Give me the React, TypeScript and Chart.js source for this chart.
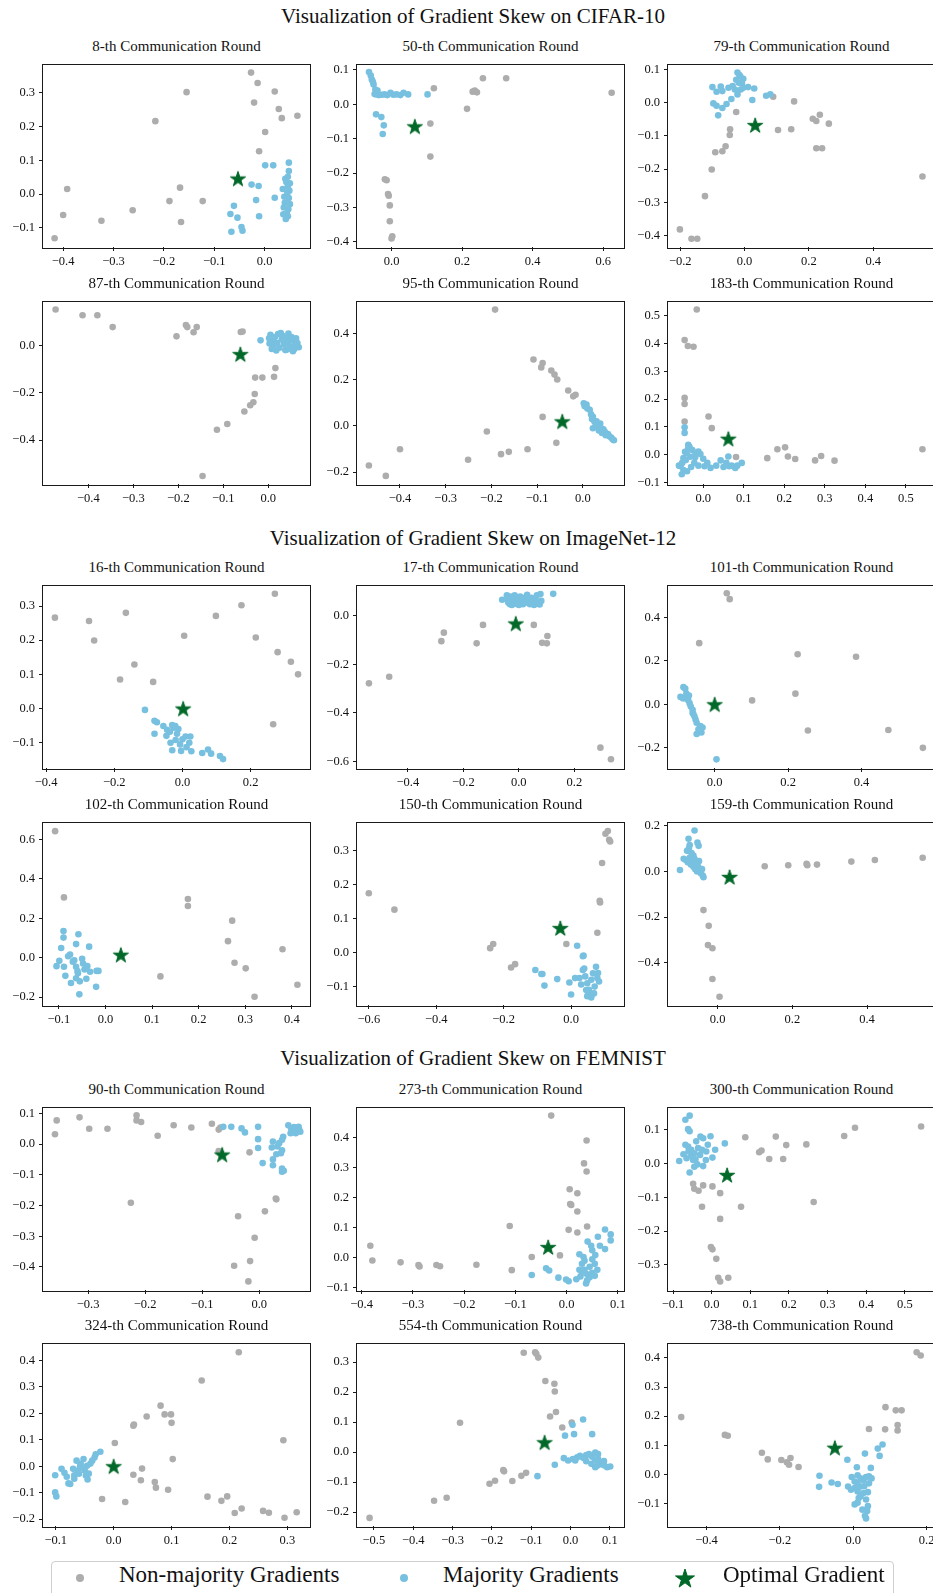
import React, { useEffect, useRef } from 'react';
import { Chart, registerables } from 'chart.js';

Chart.register(...registerables);

type Pt = [number, number];

const GRAY = '#adadad';
const BLUE = '#78c0e0';
const GREEN = '#006828';
const FONT = "'Liberation Serif', 'Times New Roman', serif";

const sectionTitles = [
  'Visualization of Gradient Skew on CIFAR-10',
  'Visualization of Gradient Skew on ImageNet-12',
  'Visualization of Gradient Skew on FEMNIST',
];
const rounds = [8, 50, 79, 87, 95, 183, 16, 17, 101, 102, 150, 159, 90, 273, 300, 324, 554, 738];
const legendLabels = ['Non-majority Gradients', 'Majority Gradients', 'Optimal Gradient'];

// ---------- CIFAR-10 ----------
const p1Gray: Pt[] = [[-0.417,-0.131],[-0.400,-0.062],[-0.392,0.015],[-0.324,-0.079],[-0.262,-0.048],[-0.217,0.216],[-0.189,-0.021],[-0.168,0.019],[-0.166,-0.083],[-0.155,0.302],[-0.123,-0.021],[-0.027,0.360],[-0.014,0.329],[-0.021,0.271],[0.020,0.304],[0.028,0.252],[0.034,0.225],[0.065,0.232],[0.001,0.184],[-0.011,0.127]];
const p1Blue: Pt[] = [[0.001,0.085],[0.017,0.085],[0.048,0.093],[0.048,0.068],[0.046,0.051],[0.043,0.036],[0.046,0.024],[0.045,0.003],[0.048,-0.012],[0.040,-0.026],[0.038,-0.040],[0.044,-0.057],[0.042,-0.074],[0.050,0.032],[0.036,0.015],[0.050,-0.030],[0.037,-0.060],[0.046,-0.066],[0.041,0.045],[0.049,0.010],[0.039,-0.008],[0.047,-0.045],[-0.026,0.028],[-0.012,0.024],[0.020,-0.011],[-0.017,-0.018],[-0.061,-0.035],[-0.068,-0.059],[-0.054,-0.070],[-0.011,-0.066],[-0.066,-0.112],[-0.046,-0.098],[-0.044,-0.109]];
const p1Star: Pt[] = [[-0.053,0.046]];
const p1X = [-0.4,-0.3,-0.2,-0.1,0.0];
const p1Y = [-0.1,0.0,0.1,0.2,0.3];
const p1XLim = [-0.440,0.090];
const p1YLim = [-0.157,0.384];

const p2Gray: Pt[] = [[0.120,0.047],[0.325,0.076],[0.259,0.076],[0.230,0.037],[0.242,0.035],[0.236,0.040],[0.214,-0.013],[0.624,0.034],[0.110,-0.056],[0.110,-0.152],[-0.019,-0.218],[-0.014,-0.221],[-0.010,-0.261],[-0.008,-0.266],[-0.005,-0.294],[-0.005,-0.340],[0.002,-0.384],[0.000,-0.390]];
const p2Blue: Pt[] = [[-0.064,0.094],[-0.059,0.084],[-0.056,0.072],[-0.051,0.058],[-0.046,0.043],[-0.041,0.034],[-0.036,0.027],[-0.020,0.029],[-0.003,0.034],[0.014,0.029],[0.034,0.034],[0.047,0.029],[0.102,0.029],[-0.028,0.028],[-0.012,0.027],[0.005,0.028],[-0.048,0.030],[-0.040,0.040],[-0.053,0.066],[-0.044,0.029],[0.025,0.027],[-0.044,-0.029],[-0.029,-0.037],[-0.022,-0.061],[-0.025,-0.086]];
const p2Star: Pt[] = [[0.066,-0.064]];
const p2X = [0.0,0.2,0.4,0.6];
const p2Y = [-0.4,-0.3,-0.2,-0.1,0.0,0.1];
const p2XLim = [-0.098,0.659];
const p2YLim = [-0.415,0.116];

const p3Gray: Pt[] = [[-0.026,-0.028],[0.089,0.018],[0.154,0.004],[-0.045,-0.080],[-0.046,-0.097],[-0.059,-0.131],[-0.069,-0.146],[-0.091,-0.149],[-0.102,-0.201],[-0.123,-0.281],[-0.201,-0.381],[-0.165,-0.409],[-0.147,-0.409],[0.104,-0.082],[0.145,-0.080],[0.212,-0.048],[0.223,-0.055],[0.234,-0.036],[0.262,-0.063],[0.223,-0.137],[0.241,-0.137],[0.553,-0.222]];
const p3Blue: Pt[] = [[-0.022,0.091],[-0.013,0.079],[-0.004,0.072],[-0.026,0.069],[-0.018,0.060],[-0.008,0.058],[-0.037,0.050],[-0.050,0.045],[-0.069,0.035],[-0.087,0.033],[-0.100,0.047],[-0.074,0.049],[-0.004,0.045],[0.011,0.047],[0.030,0.043],[-0.022,0.025],[-0.030,0.040],[-0.041,0.011],[-0.056,-0.004],[-0.069,-0.016],[-0.097,-0.002],[-0.087,-0.009],[-0.082,-0.038],[0.024,0.008],[0.067,0.021],[0.080,0.025],[-0.012,0.040],[-0.016,0.083]];
const p3Star: Pt[] = [[0.033,-0.067]];
const p3X = [-0.2,0.0,0.2,0.4];
const p3Y = [-0.4,-0.3,-0.2,-0.1,0.0,0.1];
const p3XLim = [-0.238,0.592];
const p3YLim = [-0.434,0.115];

const p4Gray: Pt[] = [[-0.473,0.151],[-0.413,0.127],[-0.380,0.127],[-0.346,0.077],[-0.204,0.038],[-0.183,0.086],[-0.180,0.077],[-0.166,0.055],[-0.159,0.077],[-0.061,0.056],[-0.057,0.058],[0.016,-0.096],[0.013,-0.133],[-0.013,-0.136],[-0.029,-0.136],[-0.030,-0.205],[-0.033,-0.240],[-0.040,-0.253],[-0.053,-0.279],[-0.091,-0.332],[-0.114,-0.356],[-0.146,-0.551]];
const p4Blue: Pt[] = [[-0.017,0.021],[0.002,0.030],[0.005,0.045],[0.010,0.020],[0.012,0.000],[0.008,-0.015],[0.015,0.035],[0.020,0.010],[0.022,0.048],[0.025,-0.010],[0.030,0.025],[0.032,0.040],[0.035,0.005],[0.038,-0.020],[0.040,0.030],[0.045,0.050],[0.045,0.015],[0.048,-0.005],[0.052,0.035],[0.055,0.020],[0.058,-0.015],[0.060,0.005],[0.062,0.030],[0.065,0.010],[0.068,-0.008],[0.055,-0.025],[0.003,0.008],[0.018,-0.022],[0.028,0.052],[0.042,-0.018]];
const p4Star: Pt[] = [[-0.062,-0.037]];
const p4X = [-0.4,-0.3,-0.2,-0.1,0.0];
const p4Y = [-0.4,-0.2,0.0];
const p4XLim = [-0.501,0.093];
const p4YLim = [-0.585,0.185];

const p5Gray: Pt[] = [[-0.468,-0.171],[-0.431,-0.216],[-0.400,-0.101],[-0.251,-0.146],[-0.210,-0.024],[-0.192,0.503],[-0.179,-0.122],[-0.162,-0.112],[-0.121,-0.101],[-0.108,0.287],[-0.088,0.272],[-0.091,0.253],[-0.069,0.240],[-0.062,0.222],[-0.056,0.201],[-0.088,0.039],[-0.032,0.153],[-0.021,0.128],[-0.016,0.135],[-0.058,-0.073]];
const p5Blue: Pt[] = [[0.002,0.098],[0.004,0.085],[0.008,0.092],[0.010,0.075],[0.015,0.070],[0.018,0.050],[0.022,0.040],[0.020,0.030],[0.025,0.020],[0.028,0.005],[0.030,0.020],[0.022,-0.010],[0.032,-0.005],[0.035,-0.020],[0.040,-0.010],[0.042,-0.030],[0.048,-0.025],[0.050,-0.040],[0.055,-0.035],[0.058,-0.045],[0.062,-0.050],[0.065,-0.058],[0.068,-0.062],[0.045,-0.015],[0.038,0.010]];
const p5Star: Pt[] = [[-0.045,0.020]];
const p5X = [-0.4,-0.3,-0.2,-0.1,0.0];
const p5Y = [-0.2,0.0,0.2,0.4];
const p5XLim = [-0.494,0.090];
const p5YLim = [-0.251,0.538];

const p6Gray: Pt[] = [[-0.016,0.522],[-0.046,0.412],[-0.038,0.391],[-0.024,0.388],[-0.046,0.204],[-0.046,0.182],[-0.046,0.119],[0.013,0.137],[0.021,0.095],[0.081,-0.009],[0.158,-0.013],[0.183,0.019],[0.202,0.026],[0.209,-0.007],[0.227,-0.016],[0.276,-0.021],[0.291,-0.005],[0.324,-0.022],[0.541,0.019]];
const p6Blue: Pt[] = [[-0.046,0.098],[-0.046,0.078],[-0.037,0.035],[-0.037,0.023],[-0.041,0.005],[-0.049,-0.013],[-0.052,-0.030],[-0.056,-0.042],[-0.049,-0.056],[-0.053,-0.071],[-0.034,0.028],[-0.027,0.016],[-0.019,0.005],[-0.012,0.011],[-0.007,0.002],[-0.022,-0.030],[-0.012,-0.040],[0.010,-0.030],[0.003,-0.042],[0.018,-0.048],[0.032,-0.040],[0.043,-0.021],[0.057,-0.030],[0.064,-0.042],[0.079,-0.048],[0.095,-0.030],[0.084,-0.040],[0.062,-0.007],[-0.043,-0.020],[-0.032,-0.008],[-0.045,0.010],[-0.060,-0.040],[-0.030,-0.045],[0.000,-0.015],[-0.020,-0.010],[0.050,-0.045],[0.070,-0.040],[-0.040,-0.060]];
const p6Star: Pt[] = [[0.062,0.057]];
const p6X = [0.0,0.1,0.2,0.3,0.4,0.5];
const p6Y = [-0.1,0.0,0.1,0.2,0.3,0.4,0.5];
const p6XLim = [-0.087,0.572];
const p6YLim = [-0.106,0.551];

// ---------- ImageNet-12 ----------
const p7Gray: Pt[] = [[-0.374,0.266],[-0.274,0.256],[-0.259,0.199],[-0.166,0.280],[-0.141,0.129],[-0.183,0.085],[-0.086,0.078],[0.005,0.213],[0.098,0.271],[0.173,0.302],[0.215,0.208],[0.271,0.336],[0.279,0.165],[0.318,0.137],[0.339,0.100],[0.266,-0.046]];
const p7Blue: Pt[] = [[-0.110,-0.004],[-0.082,-0.036],[-0.075,-0.040],[-0.056,-0.051],[-0.047,-0.080],[-0.082,-0.074],[-0.030,-0.048],[-0.026,-0.056],[-0.016,-0.074],[-0.035,-0.100],[-0.030,-0.122],[-0.007,-0.105],[-0.004,-0.124],[0.009,-0.082],[0.023,-0.082],[0.012,-0.113],[0.026,-0.125],[0.058,-0.130],[0.075,-0.120],[0.084,-0.132],[0.110,-0.139],[0.119,-0.148],[-0.037,-0.068],[-0.021,-0.051],[0.020,-0.100],[-0.045,-0.062],[-0.012,-0.060],[0.000,-0.090],[-0.020,-0.092]];
const p7Star: Pt[] = [[0.002,0.000]];
const p7X = [-0.4,-0.2,0.0,0.2];
const p7Y = [-0.1,0.0,0.1,0.2,0.3];
const p7XLim = [-0.409,0.374];
const p7YLim = [-0.174,0.360];

const p8Gray: Pt[] = [[-0.540,-0.278],[-0.467,-0.251],[-0.279,-0.104],[-0.270,-0.069],[-0.152,-0.113],[-0.129,-0.037],[0.054,-0.037],[0.103,-0.083],[0.084,-0.111],[0.101,-0.113],[0.294,-0.543],[0.332,-0.591]];
const p8Blue: Pt[] = [[-0.060,0.067],[0.124,0.091],[-0.043,0.085],[-0.040,0.070],[-0.038,0.055],[-0.030,0.080],[-0.025,0.045],[-0.020,0.065],[-0.015,0.085],[-0.010,0.050],[-0.005,0.070],[0.000,0.045],[0.005,0.080],[0.010,0.060],[0.015,0.048],[0.020,0.075],[0.025,0.055],[0.030,0.087],[0.035,0.065],[0.040,0.048],[0.045,0.075],[0.050,0.058],[0.055,0.045],[0.060,0.070],[0.065,0.085],[0.070,0.055],[0.075,0.047],[0.081,0.062],[0.078,0.090],[-0.032,0.048]];
const p8Star: Pt[] = [[-0.011,-0.031]];
const p8X = [-0.4,-0.2,0.0,0.2];
const p8Y = [-0.6,-0.4,-0.2,0.0];
const p8XLim = [-0.583,0.379];
const p8YLim = [-0.627,0.1255];

const p9Gray: Pt[] = [[0.033,0.512],[0.041,0.485],[-0.042,0.282],[0.226,0.231],[0.385,0.219],[0.102,0.018],[0.220,0.049],[0.254,-0.121],[0.473,-0.119],[0.567,-0.201]];
const p9Blue: Pt[] = [[-0.085,0.079],[-0.080,0.072],[-0.077,0.049],[-0.093,0.034],[-0.085,0.027],[-0.072,0.019],[-0.068,0.004],[-0.065,-0.010],[-0.060,-0.025],[-0.060,-0.040],[-0.055,-0.055],[-0.052,-0.070],[-0.049,-0.085],[-0.039,-0.100],[-0.044,-0.115],[-0.036,-0.130],[-0.049,-0.137],[-0.033,-0.107],[-0.075,0.027],[-0.088,0.030],[-0.070,0.040],[-0.058,-0.045],[0.005,-0.254]];
const p9Star: Pt[] = [[0.000,0.000]];
const p9X = [0.0,0.2,0.4];
const p9Y = [-0.2,0.0,0.2,0.4];
const p9XLim = [-0.127,0.600];
const p9YLim = [-0.294,0.548];

const p10Gray: Pt[] = [[-0.108,0.642],[-0.089,0.306],[0.177,0.298],[0.177,0.262],[0.272,0.188],[0.263,0.084],[0.277,-0.026],[0.301,-0.054],[0.118,-0.095],[0.320,-0.198],[0.380,0.043],[0.412,-0.137]];
const p10Blue: Pt[] = [[-0.090,0.135],[-0.090,0.102],[-0.095,0.049],[-0.105,-0.043],[-0.099,-0.016],[-0.089,-0.046],[-0.086,-0.092],[-0.080,0.007],[-0.076,0.016],[-0.074,-0.128],[-0.063,0.069],[-0.058,0.119],[-0.067,-0.013],[-0.063,-0.046],[-0.059,-0.079],[-0.063,-0.104],[-0.060,-0.068],[-0.056,-0.186],[-0.050,-0.005],[-0.048,-0.030],[-0.039,-0.043],[-0.041,-0.107],[-0.035,0.056],[-0.033,-0.071],[-0.020,-0.148],[-0.019,-0.067],[-0.015,-0.067],[-0.070,-0.020],[-0.045,-0.060],[-0.055,-0.120]];
const p10Star: Pt[] = [[0.033,0.015]];
const p10X = [-0.1,0.0,0.1,0.2,0.3,0.4];
const p10Y = [-0.2,0.0,0.2,0.4,0.6];
const p10XLim = [-0.134,0.439];
const p10YLim = [-0.240,0.686];

const p11Gray: Pt[] = [[-0.600,0.174],[-0.524,0.126],[-0.240,0.013],[-0.231,0.025],[-0.178,-0.044],[-0.166,-0.034],[-0.014,0.025],[0.078,0.058],[0.085,0.152],[0.086,0.147],[0.092,0.263],[0.102,0.349],[0.109,0.357],[0.113,0.331],[0.116,0.326]];
const p11Blue: Pt[] = [[0.018,0.020],[0.035,-0.011],[0.037,-0.009],[-0.106,-0.051],[-0.088,-0.063],[-0.085,-0.063],[-0.079,-0.097],[-0.041,-0.078],[-0.005,-0.088],[0.000,-0.123],[0.012,-0.075],[0.035,-0.051],[0.042,-0.070],[0.048,-0.090],[0.053,-0.109],[0.060,-0.132],[0.065,-0.061],[0.074,-0.042],[0.078,-0.075],[0.083,-0.085],[0.048,-0.128],[0.056,-0.118],[0.030,-0.094],[0.039,-0.047],[0.070,-0.100],[0.060,-0.080],[0.080,-0.060],[0.045,-0.110],[0.025,-0.075],[0.068,-0.120]];
const p11Star: Pt[] = [[-0.032,0.072]];
const p11X = [-0.6,-0.4,-0.2,0.0];
const p11Y = [-0.1,0.0,0.1,0.2,0.3];
const p11XLim = [-0.635,0.157];
const p11YLim = [-0.154,0.382];

const p12Gray: Pt[] = [[0.126,0.023],[0.189,0.027],[0.238,0.033],[0.240,0.027],[0.266,0.030],[0.358,0.043],[0.421,0.050],[0.549,0.060],[-0.038,-0.169],[-0.024,-0.238],[-0.026,-0.322],[-0.014,-0.336],[-0.014,-0.470],[0.005,-0.548]];
const p12Blue: Pt[] = [[-0.101,0.006],[-0.062,0.179],[-0.078,0.143],[-0.075,0.115],[-0.054,0.126],[-0.051,0.112],[-0.091,0.055],[-0.085,0.050],[-0.080,0.040],[-0.075,0.060],[-0.072,0.030],[-0.068,0.045],[-0.065,0.020],[-0.062,0.055],[-0.060,0.010],[-0.058,0.035],[-0.055,0.000],[-0.052,0.020],[-0.050,0.045],[-0.048,0.005],[-0.045,-0.008],[-0.042,0.010],[-0.040,-0.018],[-0.038,-0.025],[-0.082,0.090],[-0.077,0.100],[-0.070,0.080],[-0.065,0.070]];
const p12Star: Pt[] = [[0.032,-0.024]];
const p12X = [0.0,0.2,0.4];
const p12Y = [-0.4,-0.2,0.0,0.2];
const p12XLim = [-0.133,0.582];
const p12YLim = [-0.584,0.214];

// ---------- FEMNIST ----------
const p13Gray: Pt[] = [[-0.358,0.032],[-0.355,0.077],[-0.315,0.087],[-0.298,0.050],[-0.266,0.050],[-0.225,-0.191],[-0.215,0.094],[-0.215,0.077],[-0.207,0.072],[-0.178,0.027],[-0.150,0.061],[-0.119,0.054],[-0.083,0.066],[-0.071,0.047],[-0.068,0.054],[-0.071,-0.023],[-0.017,-0.027],[-0.037,-0.235],[-0.008,-0.305],[0.010,-0.219],[0.029,-0.177],[0.030,-0.180],[-0.044,-0.396],[-0.016,-0.381],[-0.019,-0.447]];
const p13Blue: Pt[] = [[-0.063,0.056],[-0.049,0.056],[-0.031,0.051],[-0.025,0.038],[-0.002,0.056],[-0.002,0.016],[-0.002,-0.013],[0.024,0.008],[0.022,-0.011],[0.006,-0.062],[0.024,-0.050],[0.024,-0.069],[0.030,-0.033],[0.032,-0.008],[0.035,0.003],[0.040,0.014],[0.042,0.024],[0.040,-0.020],[0.038,-0.030],[0.040,-0.080],[0.043,-0.087],[0.040,-0.090],[0.051,0.061],[0.056,0.050],[0.061,0.055],[0.066,0.045],[0.059,0.040],[0.069,0.056],[0.072,0.040],[0.064,0.035],[0.055,0.035],[0.070,0.048]];
const p13Star: Pt[] = [[-0.065,-0.034]];
const p13X = [-0.3,-0.2,-0.1,0.0];
const p13Y = [-0.4,-0.3,-0.2,-0.1,0.0,0.1];
const p13XLim = [-0.379,0.089];
const p13YLim = [-0.475,0.119];

const p14Gray: Pt[] = [[-0.383,0.040],[-0.379,-0.009],[-0.324,-0.015],[-0.289,-0.024],[-0.287,-0.029],[-0.254,-0.024],[-0.247,-0.028],[-0.176,-0.023],[-0.111,0.106],[-0.107,-0.041],[-0.068,0.003],[-0.030,0.473],[-0.013,0.008],[0.004,0.093],[0.021,0.084],[0.006,0.228],[0.021,0.215],[0.007,0.179],[0.009,0.176],[0.021,0.154],[0.034,0.314],[0.039,0.287],[0.039,0.390],[0.040,0.104]];
const p14Blue: Pt[] = [[-0.068,-0.057],[-0.040,-0.035],[-0.034,-0.042],[-0.016,-0.066],[-0.001,-0.072],[0.004,-0.078],[0.019,-0.071],[0.027,-0.062],[0.025,0.012],[0.033,0.003],[0.041,0.054],[0.050,0.025],[0.056,0.009],[0.061,0.070],[0.065,0.040],[0.075,0.029],[0.075,0.094],[0.086,0.058],[0.086,0.078],[0.030,-0.020],[0.035,-0.040],[0.040,-0.055],[0.045,-0.030],[0.050,-0.050],[0.055,-0.020],[0.040,-0.075],[0.030,-0.050],[0.045,-0.065],[0.060,-0.040],[0.050,-0.005],[0.035,-0.010],[0.025,-0.040],[0.055,-0.060],[0.048,0.040],[0.038,-0.085]];
const p14Star: Pt[] = [[-0.036,0.036]];
const p14X = [-0.4,-0.3,-0.2,-0.1,0.0,0.1];
const p14Y = [-0.1,0.0,0.1,0.2,0.3,0.4];
const p14XLim = [-0.409,0.112];
const p14YLim = [-0.107,0.500];

const p15Gray: Pt[] = [[0.542,0.109],[0.371,0.105],[0.343,0.081],[0.245,0.056],[0.166,0.079],[0.193,0.054],[0.123,0.033],[0.129,0.038],[0.149,0.013],[0.185,0.013],[0.087,0.077],[0.264,-0.114],[0.076,-0.128],[-0.048,-0.060],[-0.045,-0.075],[-0.034,-0.081],[-0.022,-0.065],[0.002,-0.068],[-0.025,-0.128],[0.022,-0.088],[0.022,-0.164],[-0.002,-0.247],[0.002,-0.254],[0.012,-0.282],[0.017,-0.338],[0.022,-0.349],[0.043,-0.338]];
const p15Blue: Pt[] = [[-0.057,0.141],[-0.068,0.129],[-0.061,0.101],[-0.057,0.095],[-0.084,0.007],[-0.073,0.027],[-0.068,0.055],[-0.061,0.050],[-0.053,0.040],[-0.045,0.030],[-0.053,0.021],[-0.042,0.012],[-0.037,-0.003],[-0.057,-0.027],[-0.029,0.079],[-0.022,0.074],[-0.003,0.080],[-0.022,-0.008],[0.002,0.017],[-0.014,0.035],[0.009,0.040],[0.034,0.059],[-0.040,0.065],[-0.035,0.045],[-0.030,0.025],[-0.048,0.010],[-0.060,0.035],[-0.025,0.040],[-0.015,0.010],[-0.045,-0.010],[-0.065,0.015],[-0.010,0.055]];
const p15Star: Pt[] = [[0.040,-0.034]];
const p15X = [-0.1,0.0,0.1,0.2,0.3,0.4,0.5];
const p15Y = [-0.3,-0.2,-0.1,0.0,0.1];
const p15XLim = [-0.113,0.578];
const p15YLim = [-0.374,0.165];

const p16Gray: Pt[] = [[0.002,0.088],[0.034,-0.032],[0.047,-0.053],[0.049,-0.009],[-0.020,-0.124],[0.020,-0.135],[0.034,0.153],[0.035,0.158],[0.057,0.188],[0.081,0.229],[0.088,0.196],[0.099,0.196],[0.100,0.164],[0.102,0.027],[0.071,-0.060],[0.073,-0.081],[0.094,-0.089],[0.152,0.324],[0.162,-0.115],[0.186,-0.131],[0.196,-0.114],[0.209,-0.177],[0.221,-0.160],[0.216,0.431],[0.258,-0.169],[0.268,-0.176],[0.293,0.098],[0.295,-0.195],[0.316,-0.174]];
const p16Blue: Pt[] = [[-0.101,-0.034],[-0.101,-0.099],[-0.099,-0.114],[-0.090,-0.010],[-0.081,-0.040],[-0.078,-0.065],[-0.075,-0.067],[-0.068,-0.047],[-0.062,-0.016],[-0.064,0.021],[-0.057,0.009],[-0.052,0.027],[-0.050,-0.016],[-0.046,0.002],[-0.045,-0.050],[-0.043,-0.028],[-0.037,0.021],[-0.033,0.033],[-0.031,0.045],[-0.023,0.055],[-0.068,-0.034],[-0.060,-0.028],[-0.055,-0.005],[-0.040,0.010],[-0.070,-0.010],[-0.085,-0.025],[-0.048,-0.035],[-0.058,0.000]];
const p16Star: Pt[] = [[0.000,0.000]];
const p16X = [-0.1,0.0,0.1,0.2,0.3];
const p16Y = [-0.2,-0.1,0.0,0.1,0.2,0.3,0.4];
const p16XLim = [-0.122,0.339];
const p16YLim = [-0.226,0.464];

const p17Gray: Pt[] = [[-0.511,-0.219],[-0.347,-0.162],[-0.315,-0.152],[-0.281,0.098],[-0.206,-0.105],[-0.192,-0.095],[-0.171,-0.060],[-0.169,-0.064],[-0.148,-0.096],[-0.125,-0.079],[-0.113,-0.069],[-0.119,0.331],[-0.090,0.333],[-0.087,0.328],[-0.082,0.315],[-0.064,0.237],[-0.041,0.228],[-0.040,0.202],[-0.052,0.119],[-0.037,0.134],[-0.021,0.082],[0.003,0.099]];
const p17Blue: Pt[] = [[-0.084,-0.080],[-0.040,-0.042],[-0.014,0.055],[0.005,0.091],[0.009,0.060],[0.032,0.109],[0.055,0.060],[-0.017,-0.020],[-0.006,-0.028],[0.006,-0.023],[0.017,-0.017],[0.024,-0.012],[0.032,-0.019],[0.047,-0.006],[0.055,-0.015],[0.063,-0.001],[0.070,-0.006],[0.053,-0.039],[0.063,-0.050],[0.070,-0.044],[0.085,-0.044],[0.093,-0.050],[0.101,-0.048],[0.078,-0.034],[0.040,-0.030],[0.012,-0.028],[0.063,-0.028],[0.070,-0.022],[0.085,-0.030],[0.040,-0.010]];
const p17Star: Pt[] = [[-0.066,0.033]];
const p17X = [-0.5,-0.4,-0.3,-0.2,-0.1,0.0,0.1];
const p17Y = [-0.2,-0.1,0.0,0.1,0.2,0.3];
const p17XLim = [-0.543,0.136];
const p17YLim = [-0.246,0.362];

const p18Gray: Pt[] = [[-0.469,0.197],[-0.350,0.136],[-0.342,0.133],[-0.249,0.075],[-0.233,0.052],[-0.196,0.050],[-0.181,0.042],[-0.171,0.057],[-0.175,0.034],[-0.149,0.026],[0.043,0.156],[0.087,0.155],[0.088,0.231],[0.116,0.220],[0.132,0.220],[0.121,0.170],[0.121,0.151],[0.173,0.419],[0.184,0.408]];
const p18Blue: Pt[] = [[-0.092,-0.004],[-0.093,-0.042],[-0.059,-0.027],[-0.042,-0.032],[-0.016,0.051],[0.010,0.025],[0.032,0.072],[0.048,0.023],[0.067,0.089],[0.072,0.064],[0.080,0.103],[-0.004,-0.008],[0.004,-0.024],[0.012,-0.002],[0.020,-0.013],[0.028,-0.019],[0.035,-0.008],[0.043,-0.006],[0.050,-0.013],[0.004,-0.046],[0.012,-0.058],[0.020,-0.074],[0.028,-0.063],[0.035,-0.085],[0.040,-0.108],[0.012,-0.096],[0.004,-0.102],[0.032,-0.141],[0.035,-0.150],[-0.014,-0.041],[-0.006,-0.052],[0.012,-0.030],[0.043,-0.030],[0.020,-0.041],[0.025,-0.120],[0.015,-0.080],[0.030,-0.040],[0.040,-0.060],[0.038,-0.125]];
const p18Star: Pt[] = [[-0.050,0.092]];
const p18X = [-0.4,-0.2,0.0,0.2];
const p18Y = [-0.1,0.0,0.1,0.2,0.3,0.4];
const p18XLim = [-0.505,0.223];
const p18YLim = [-0.176,0.449];

type Spec = { gray: Pt[]; blue: Pt[]; star: Pt[]; xt: number[]; yt: number[]; xl: number[]; yl: number[] };
const panels: Spec[] = [
  { gray: p1Gray, blue: p1Blue, star: p1Star, xt: p1X, yt: p1Y, xl: p1XLim, yl: p1YLim },
  { gray: p2Gray, blue: p2Blue, star: p2Star, xt: p2X, yt: p2Y, xl: p2XLim, yl: p2YLim },
  { gray: p3Gray, blue: p3Blue, star: p3Star, xt: p3X, yt: p3Y, xl: p3XLim, yl: p3YLim },
  { gray: p4Gray, blue: p4Blue, star: p4Star, xt: p4X, yt: p4Y, xl: p4XLim, yl: p4YLim },
  { gray: p5Gray, blue: p5Blue, star: p5Star, xt: p5X, yt: p5Y, xl: p5XLim, yl: p5YLim },
  { gray: p6Gray, blue: p6Blue, star: p6Star, xt: p6X, yt: p6Y, xl: p6XLim, yl: p6YLim },
  { gray: p7Gray, blue: p7Blue, star: p7Star, xt: p7X, yt: p7Y, xl: p7XLim, yl: p7YLim },
  { gray: p8Gray, blue: p8Blue, star: p8Star, xt: p8X, yt: p8Y, xl: p8XLim, yl: p8YLim },
  { gray: p9Gray, blue: p9Blue, star: p9Star, xt: p9X, yt: p9Y, xl: p9XLim, yl: p9YLim },
  { gray: p10Gray, blue: p10Blue, star: p10Star, xt: p10X, yt: p10Y, xl: p10XLim, yl: p10YLim },
  { gray: p11Gray, blue: p11Blue, star: p11Star, xt: p11X, yt: p11Y, xl: p11XLim, yl: p11YLim },
  { gray: p12Gray, blue: p12Blue, star: p12Star, xt: p12X, yt: p12Y, xl: p12XLim, yl: p12YLim },
  { gray: p13Gray, blue: p13Blue, star: p13Star, xt: p13X, yt: p13Y, xl: p13XLim, yl: p13YLim },
  { gray: p14Gray, blue: p14Blue, star: p14Star, xt: p14X, yt: p14Y, xl: p14XLim, yl: p14YLim },
  { gray: p15Gray, blue: p15Blue, star: p15Star, xt: p15X, yt: p15Y, xl: p15XLim, yl: p15YLim },
  { gray: p16Gray, blue: p16Blue, star: p16Star, xt: p16X, yt: p16Y, xl: p16XLim, yl: p16YLim },
  { gray: p17Gray, blue: p17Blue, star: p17Star, xt: p17X, yt: p17Y, xl: p17XLim, yl: p17YLim },
  { gray: p18Gray, blue: p18Blue, star: p18Star, xt: p18X, yt: p18Y, xl: p18XLim, yl: p18YLim },
];

// ---------- layout ----------
const COL_LEFT = [43, 357, 668];
const ROW_TOP = [59, 296, 580, 817, 1102, 1338];
const PW = 267;
const PH = 188;
const PAD_L = 50;
const PAD_T = 6;
const PAD_R = 6;
const PAD_B = 34;
const TITLE_BASE = [24, 545.5, 1066];
const FIG_CENTER = 473;

const fmt = (v: number) => {
  const r = Math.round(v * 10) / 10;
  if (Math.abs(r) < 1e-9) return '0.0';
  return (r < 0 ? '\u2212' : '') + Math.abs(r).toFixed(1);
};

function makeStar(R: number, color: string): HTMLCanvasElement {
  const size = Math.ceil(2 * R + 4);
  const c = document.createElement('canvas');
  c.width = size;
  c.height = size;
  const ctx = c.getContext('2d')!;
  const cx = size / 2;
  const cy = size / 2 + R * 0.1;
  ctx.beginPath();
  for (let i = 0; i < 10; i++) {
    const a = -Math.PI / 2 + (i * Math.PI) / 5;
    const r = i % 2 === 0 ? R : R * 0.382;
    const x = cx + r * Math.cos(a);
    const y = cy + r * Math.sin(a);
    if (i === 0) ctx.moveTo(x, y);
    else ctx.lineTo(x, y);
  }
  ctx.closePath();
  ctx.fillStyle = color;
  ctx.fill();
  ctx.lineWidth = 1;
  ctx.strokeStyle = color;
  ctx.stroke();
  return c;
}

const framePlugin = {
  id: 'frame',
  afterDatasetsDraw(chart: any) {
    const { ctx, chartArea: a } = chart;
    ctx.save();
    ctx.strokeStyle = '#1a1a1a';
    ctx.lineWidth = 1;
    ctx.strokeRect(Math.round(a.left) - 0.5, Math.round(a.top) - 0.5, Math.round(a.right - a.left) + 1, Math.round(a.bottom - a.top) + 1);
    ctx.restore();
  },
};

function axisOpts(ticks: number[], lim: number[], isX: boolean) {
  return {
    type: 'linear' as const,
    position: isX ? 'bottom' : 'left',
    min: lim[0],
    max: lim[1],
    afterBuildTicks: (s: any) => {
      s.ticks = ticks.map((v) => ({ value: v }));
    },
    afterFit: (s: any) => {
      if (isX) s.height = PAD_B;
      else s.width = PAD_L;
    },
    grid: {
      display: true,
      drawOnChartArea: false,
      drawTicks: true,
      tickLength: 4,
      tickWidth: 1,
      tickColor: '#1a1a1a',
    },
    border: { display: false },
    ticks: {
      autoSkip: false,
      maxRotation: 0,
      minRotation: 0,
      padding: isX ? 3 : 4,
      color: '#111',
      font: { family: FONT, size: 12.5 },
      callback: (v: any) => fmt(Number(v)),
    },
  };
}

const toXY = (arr: Pt[]) => arr.map(([x, y]) => ({ x, y }));

function Panel({ spec, left, top }: { spec: Spec; left: number; top: number }) {
  const ref = useRef<HTMLCanvasElement>(null);
  useEffect(() => {
    const star = makeStar(8, GREEN);
    const chart = new Chart(ref.current!, {
      type: 'scatter',
      data: {
        datasets: [
          { label: 'Optimal Gradient', data: toXY(spec.star), pointStyle: star as any, pointRadius: 8, order: 0 },
          { label: 'Majority Gradients', data: toXY(spec.blue), pointBackgroundColor: BLUE, pointBorderColor: BLUE, pointBorderWidth: 0, pointRadius: 3.3, order: 1 },
          { label: 'Non-majority Gradients', data: toXY(spec.gray), pointBackgroundColor: GRAY, pointBorderColor: GRAY, pointBorderWidth: 0, pointRadius: 3.3, order: 2 },
        ],
      },
      options: {
        responsive: false,
        animation: false,
        events: [],
        layout: { padding: { left: 0, right: PAD_R, top: PAD_T, bottom: 0 }, autoPadding: false } as any,
        plugins: { legend: { display: false }, tooltip: { enabled: false }, title: { display: false } },
        scales: {
          x: axisOpts(spec.xt, spec.xl, true) as any,
          y: axisOpts(spec.yt, spec.yl, false) as any,
        },
      },
      plugins: [framePlugin],
    });
    return () => chart.destroy();
  }, [spec]);
  return (
    <canvas
      ref={ref}
      width={PAD_L + PW + PAD_R}
      height={PAD_T + PH + PAD_B}
      style={{ position: 'absolute', left: left - PAD_L, top: top - PAD_T, width: PAD_L + PW + PAD_R, height: PAD_T + PH + PAD_B }}
    />
  );
}

function Text({ text, base, size, left, width, align }: { text: string; base: number; size: number; left: number; width: number; align: 'left' | 'center' }) {
  return (
    <div
      style={{
        position: 'absolute',
        left,
        width,
        top: base - 0.8375 * size,
        fontSize: size,
        lineHeight: `${size}px`,
        fontFamily: FONT,
        textAlign: align,
        whiteSpace: 'nowrap',
        color: '#111',
      }}
    >
      {text}
    </div>
  );
}

function StarIcon({ cx, cy, R }: { cx: number; cy: number; R: number }) {
  const pts: string[] = [];
  for (let i = 0; i < 10; i++) {
    const a = -Math.PI / 2 + (i * Math.PI) / 5;
    const r = i % 2 === 0 ? R : R * 0.382;
    pts.push(`${(R + 2 + r * Math.cos(a)).toFixed(2)},${(R + 2 + R * 0.1 + r * Math.sin(a)).toFixed(2)}`);
  }
  return (
    <svg width={2 * R + 4} height={2 * R + 4} style={{ position: 'absolute', left: cx - R - 2, top: cy - R - 2 }}>
      <polygon points={pts.join(' ')} fill={GREEN} stroke={GREEN} strokeWidth={1} />
    </svg>
  );
}

function Dot({ cx, cy, d, color }: { cx: number; cy: number; d: number; color: string }) {
  return <div style={{ position: 'absolute', left: cx - d / 2, top: cy - d / 2, width: d, height: d, borderRadius: '50%', background: color }} />;
}

export default function App() {
  useEffect(() => {
    document.body.style.margin = '0';
    document.documentElement.style.overflow = 'hidden';
  }, []);
  return (
    <div style={{ position: 'absolute', left: 0, top: 0, width: 933, height: 1593, overflow: 'hidden', background: '#fff' }}>
      {sectionTitles.map((t, i) => (
        <Text key={t} text={t} base={TITLE_BASE[i]} size={21} left={FIG_CENTER - 300} width={600} align="center" />
      ))}
      {panels.map((p, i) => {
        const row = Math.floor(i / 3);
        const col = i % 3;
        const L = COL_LEFT[col];
        const T = ROW_TOP[row];
        return (
          <React.Fragment key={i}>
            <Text text={`${rounds[i]}-th Communication Round`} base={T - 7} size={15} left={L} width={PW} align="center" />
            <Panel spec={p} left={L} top={T} />
          </React.Fragment>
        );
      })}
      <div style={{ position: 'absolute', left: 51, top: 1561, width: 843, height: 60, border: '1px solid #cfcfcf', borderRadius: 4, background: '#fff', boxSizing: 'border-box' }} />
      <Dot cx={80} cy={1578} d={8.5} color={GRAY} />
      <Text text={legendLabels[0]} base={1582} size={23} left={119} width={240} align="left" />
      <Dot cx={404} cy={1578} d={8.5} color={BLUE} />
      <Text text={legendLabels[1]} base={1582} size={23} left={443} width={220} align="left" />
      <StarIcon cx={684.5} cy={1578} R={10} />
      <Text text={legendLabels[2]} base={1582} size={23} left={723} width={200} align="left" />
    </div>
  );
}
